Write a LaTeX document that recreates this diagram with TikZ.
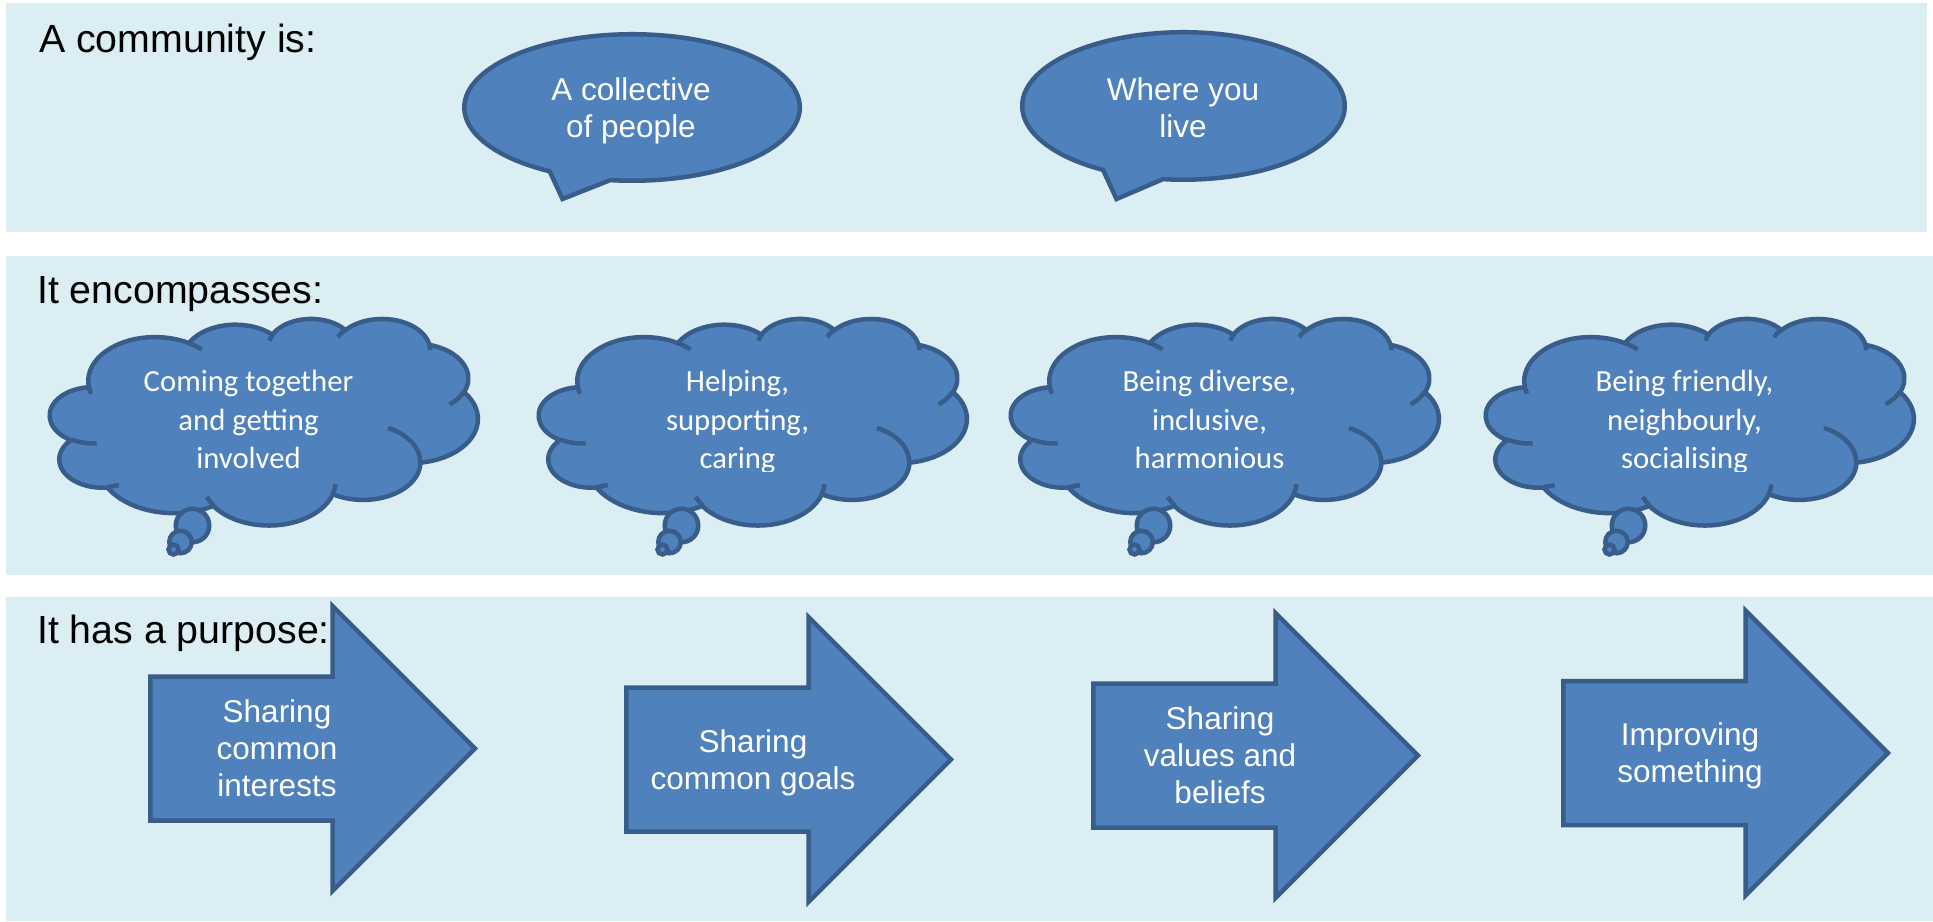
\documentclass[tikz,border=0pt]{standalone}
\usepackage{fontspec}
\setmainfont{Liberation Sans}
\newfontfamily\calfont{Carlito}
\definecolor{panel}{HTML}{DAEEF3}
\definecolor{shapefill}{HTML}{4F81BD}
\definecolor{shapeline}{HTML}{385D8A}
\tikzset{
  shapebox/.style={fill=shapefill, draw=shapeline, line width=4.5pt, line join=miter},
  innerline/.style={draw=shapeline, line width=4.5pt},
  panelbox/.style={fill=panel, draw=none},
  heading/.style={anchor=base west, inner sep=0pt, text=black, font=\fontsize{39.3}{47}\selectfont},
  shapetext/.style={inner sep=0pt, align=center, text=white, font=\fontsize{31.5}{37}\selectfont},
  cloudtext/.style={inner sep=0pt, align=center, text=white, font=\calfont\fontsize{30.7}{38.7}\selectfont},
  ooarc/.style n args={4}{insert path={arc[x radius=#1, y radius=#2,
     start angle={atan2((#1)*sin(#3),(#2)*cos(#3))},
     delta angle={mod(atan2((#1)*sin((#3)+(#4)),(#2)*cos((#3)+(#4)))-atan2((#1)*sin(#3),(#2)*cos(#3))+720,360)}]}},
}
% cloud: #1 outer left x, #2 node name, #3 text
\newcommand\mycloud[3]{%
  \begin{scope}[shift={(#1+2.25,318.25)}, x=0.98958pt, y=-0.47801pt]
    \draw[shapebox] (39,143.70)
      [ooarc={67.53}{91.90}{-190.4875}{123.7805}]
      [ooarc={53.33}{72.67}{-144.1024}{89.9452}]
      [ooarc={43.65}{59.45}{-145.8079}{99.7230}]
      [ooarc={48.57}{65.95}{-130.9861}{117.2417}]
      [ooarc={53.33}{72.73}{-78.7089}{109.0269}]
      [ooarc={67.75}{92.20}{-46.2673}{130.2690}]
      [ooarc={57.85}{78.67}{0.6250}{114.0333}]
      [ooarc={67.52}{92.15}{22.4516}{115.1726}]
      [ooarc={77.20}{105.43}{66.2426}{76.1447}]
      [ooarc={43.60}{59.18}{-274.9421}{146.7356}]
      [ooarc={43.45}{59.45}{-246.8285}{152.5189}] -- cycle;
  \end{scope}
  \draw[shapebox] (#1+144.5,525.5) circle[radius=16.75];
  \draw[shapebox] (#1+132.5,542) circle[radius=11.25];
  \draw[shapebox] (#1+125.5,549.5) circle[radius=5];
  \begin{scope}[shift={(#1+2.25,318.25)}, x=0.98958pt, y=-0.47801pt]
    \path[innerline]
      (46.93,261.77) [ooarc={43.45}{59.45}{86.7420}{26.4295}]
      (69.28,348.99) [ooarc={43.60}{59.18}{73.6105}{11.4475}]
      (164.78,390.90) [ooarc={67.52}{92.15}{137.6242}{14.0811}]
      (288.27,347.51) [ooarc={67.52}{92.15}{6.4533}{15.9984}]
      (341.29,229.54) [ooarc={57.85}{78.67}{-70.2924}{70.9174}]
      (417.98,153.54) [ooarc={53.33}{72.73}{30.3180}{27.7515}]
      (383.24,54.26) [ooarc={48.57}{65.95}{-13.7443}{14.8589}]
      (290.78,39.52) [ooarc={48.57}{65.95}{-149.1815}{18.1954}]
      (221.41,47.20) [ooarc={43.65}{59.45}{-163.4943}{17.6864}]
      (140.00,51.92) [ooarc={67.53}{91.90}{-66.7070}{12.3194}]
      (41.27,157.89) [ooarc={67.53}{91.90}{157.6544}{11.8582}];
  \end{scope}
  \begin{scope}
    \clip (#1,300) rectangle (#1+431,471);
    \node[cloudtext] (#2) at (#1+200.5,422.5) {#3};
  \end{scope}
}
% arrow: #1 outer left x, #2 tip y, #3 node name, #4 text
\newcommand\myarrow[4]{%
  \draw[shapebox] (#1+2.25,#2-72) -- (#1+184.5,#2-72) -- (#1+184.5,#2-142.5)
     -- (#1+327,#2) -- (#1+184.5,#2+142.5) -- (#1+184.5,#2+72)
     -- (#1+2.25,#2+72) -- cycle;
  \node[shapetext] (#3) at (#1+129,#2+4) {#4};
}
\begin{document}
\begin{tikzpicture}[x=1pt, y=-1pt]
  \useasboundingbox (0,0) rectangle (1933,921);
  \fill[white] (0,0) rectangle (1933,921);
  % panels
  \fill[panelbox] (6,3) rectangle (1927,232);
  \fill[panelbox] (6,256) rectangle (1933,575);
  \fill[panelbox] (6,597) rectangle (1933,921);
  % headings
  \node[heading] (h1) at (39,52) {A community is:};
  \node[heading] (h2) at (37,303) {It encompasses:};
  \node[heading] (h3) at (37,643) {It has a purpose:};
  % speech bubbles
  \draw[shapebox] (562.5,199) -- (549.7,171.3)
     arc[start angle=119.4, end angle=457.5, x radius=167.75, y radius=73.25] -- cycle;
  \node[shapetext] (b1) at (631,112) {\strut A collective\\\strut of people};
  \draw[shapebox] (1116.5,199) -- (1103.1,169.9)
     arc[start angle=119.9, end angle=457.3, x radius=161.25, y radius=73.75] -- cycle;
  \node[shapetext] (b2) at (1183,112) {\strut Where you\\\strut live};
  % clouds
  \mycloud{48}{c1}{\strut Coming together\\\strut and getting\\\strut involved}
  \mycloud{537}{c2}{\strut Helping,\\\strut supporting,\\\strut caring}
  \mycloud{1009}{c3}{\strut Being diverse,\\\strut inclusive,\\\strut harmonious}
  \mycloud{1484}{c4}{\strut Being friendly,\\\strut neighbourly,\\\strut socialising}
  % arrows
  \myarrow{148}{748.5}{a1}{\strut Sharing\\\strut common\\\strut interests}
  \myarrow{624}{759.5}{a2}{\strut Sharing\\\strut common goals}
  \myarrow{1091}{755.5}{a3}{\strut Sharing\\\strut values and\\\strut beliefs}
  \myarrow{1561}{753}{a4}{\strut Improving\\\strut something}
\end{tikzpicture}
\end{document}
